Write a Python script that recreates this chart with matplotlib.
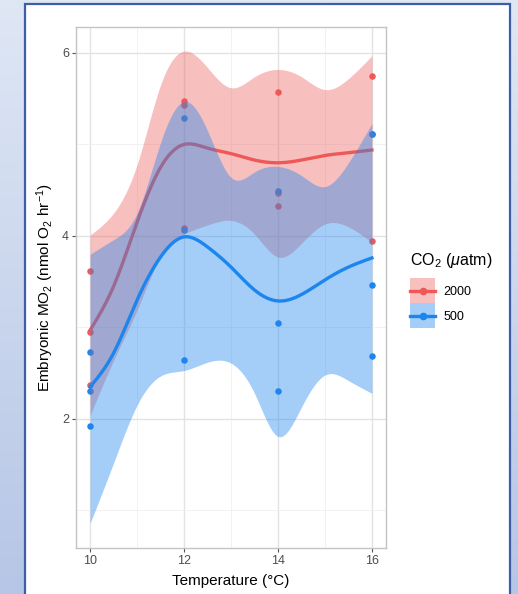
import numpy as np
import matplotlib
matplotlib.use('Agg')
import matplotlib.pyplot as plt
from matplotlib.patches import Patch, Rectangle
from matplotlib.lines import Line2D
from matplotlib.colors import LinearSegmentedColormap
from matplotlib.legend_handler import HandlerTuple, HandlerLine2D

plt.rcParams['font.family'] = ['Liberation Sans', 'DejaVu Sans']
plt.rcParams['mathtext.fontset'] = 'custom'
plt.rcParams['mathtext.rm'] = 'Liberation Sans'
plt.rcParams['mathtext.it'] = 'Liberation Sans:italic'

# raw measurements (temperature, MO2) per CO2 level
temp = [10, 10, 10, 12, 12, 12, 14, 14, 14, 16, 16, 16]
mo2_2000 = [3.62, 2.95, 2.37, 5.48, 5.43, 4.09, 5.57, 4.47, 4.33, 5.75, 5.12, 3.95]
mo2_500 = [2.73, 2.31, 1.92, 5.29, 4.07, 2.65, 4.49, 3.05, 2.31, 5.12, 3.46, 2.69]

# smoother fit and confidence band at half-degree steps
fit_x = [10, 10.5, 11, 11.5, 12, 12.5, 13, 13.5, 14, 14.5, 15, 15.5, 16]
fit_2000 = [2.97, 3.45, 4.15, 4.75, 5.00, 4.96, 4.90, 4.83, 4.80, 4.83, 4.88, 4.91, 4.94]
hi_2000 = [4.01, 4.25, 4.78, 5.65, 6.02, 5.84, 5.62, 5.74, 5.82, 5.74, 5.60, 5.72, 5.97]
lo_2000 = [2.04, 2.64, 3.19, 3.77, 4.02, 4.12, 4.17, 4.02, 3.77, 3.92, 4.13, 4.10, 3.93]
fit_500 = [2.35, 2.72, 3.30, 3.77, 3.99, 3.88, 3.66, 3.41, 3.29, 3.36, 3.52, 3.66, 3.76]
hi_500 = [3.80, 3.96, 4.25, 5.02, 5.47, 5.15, 4.64, 4.70, 4.76, 4.66, 4.54, 4.80, 5.23]
lo_500 = [0.86, 1.52, 2.15, 2.47, 2.53, 2.62, 2.61, 2.28, 1.81, 2.13, 2.48, 2.42, 2.28]

RED = '#EF5858'
BLUE = '#1C86EE'


def smooth(xk, yk, xs):
    # natural cubic spline through the read values, for drawing only
    xk = np.asarray(xk, float)
    yk = np.asarray(yk, float)
    n = len(xk)
    h = np.diff(xk)
    A = np.zeros((n, n))
    r = np.zeros(n)
    A[0, 0] = A[-1, -1] = 1
    for i in range(1, n - 1):
        A[i, i - 1] = h[i - 1]
        A[i, i] = 2 * (h[i - 1] + h[i])
        A[i, i + 1] = h[i]
        r[i] = 3 * ((yk[i + 1] - yk[i]) / h[i] - (yk[i] - yk[i - 1]) / h[i - 1])
    c = np.linalg.solve(A, r)
    b = (yk[1:] - yk[:-1]) / h - h * (2 * c[:-1] + c[1:]) / 3
    d = (c[1:] - c[:-1]) / (3 * h)
    idx = np.clip(np.searchsorted(xk, xs) - 1, 0, n - 2)
    t = xs - xk[idx]
    return yk[idx] + b[idx] * t + c[idx] * t ** 2 + d[idx] * t ** 3


class LineMid(HandlerLine2D):
    # put the key line in the middle of the key box
    def create_artists(self, legend, orig_handle, xdescent, ydescent,
                       width, height, fontsize, trans):
        return super().create_artists(legend, orig_handle, xdescent, 2 * ydescent,
                                      width, height, fontsize, trans)


W, H = 518, 594
fig = plt.figure(figsize=(W / 100, H / 100), dpi=100)

# slide-like background with white card
bg = fig.add_axes([0, 0, 1, 1], zorder=-10)
cmap = LinearSegmentedColormap.from_list('bg', ['#B6C6E6', '#DFE7F5'])
bg.imshow(np.linspace(0, 1, 256).reshape(-1, 1), cmap=cmap, aspect='auto',
          extent=[0, 1, 0, 1], origin='lower')
bg.add_patch(Rectangle((25 / W, -0.02), (510 - 25) / W, 1.02 - 4 / H,
                       transform=bg.transAxes, facecolor='white',
                       edgecolor='#3D5EA6', lw=1.6))
bg.set_xlim(0, 1)
bg.set_ylim(0, 1)
bg.axis('off')

ax = fig.add_axes([76 / W, 46 / H, 310 / W, 521 / H])
ax.set_facecolor('white')
ax.set_axisbelow(True)

xs = np.linspace(10, 16, 400)

ax.scatter(temp, mo2_2000, s=22, color=RED, zorder=2, linewidths=0)
ax.scatter(temp, mo2_500, s=22, color=BLUE, zorder=2, linewidths=0)

ax.fill_between(xs, smooth(fit_x, lo_2000, xs), smooth(fit_x, hi_2000, xs),
                color=RED, alpha=0.38, lw=0, zorder=3)
ax.plot(xs, smooth(fit_x, fit_2000, xs), color=RED, lw=2.4, zorder=4)
ax.fill_between(xs, smooth(fit_x, lo_500, xs), smooth(fit_x, hi_500, xs),
                color=BLUE, alpha=0.40, lw=0, zorder=5)
ax.plot(xs, smooth(fit_x, fit_500, xs), color=BLUE, lw=2.4, zorder=6)

ax.set_xlim(9.7, 16.3)
ax.set_ylim(0.59, 6.284)
ax.set_xticks([10, 12, 14, 16])
ax.set_xticks([11, 13, 15], minor=True)
ax.set_yticks([2, 4, 6])
ax.set_yticks([1, 3, 5], minor=True)
ax.grid(which='major', color='#E3E3E3', lw=1.0)
ax.grid(which='minor', color='#F0F0F0', lw=0.6)
ax.tick_params(which='major', length=3, width=0.8, color='#555555',
               labelsize=9, labelcolor='#4D4D4D', pad=2)
ax.tick_params(which='minor', length=0)
for s in ax.spines.values():
    s.set_color('#C4C4C4')
    s.set_linewidth(1.0)

ax.set_xlabel('Temperature (°C)', fontsize=11, labelpad=5)
ax.set_ylabel(r'Embryonic MO$_2$ (nmol O$_2$ hr$^{-1}$)', fontsize=11, labelpad=4)

handles = [
    (Patch(facecolor=RED, alpha=0.38, edgecolor='none'),
     Line2D([], [], color=RED, lw=2.4, marker='o', markersize=4.5)),
    (Patch(facecolor=BLUE, alpha=0.40, edgecolor='none'),
     Line2D([], [], color=BLUE, lw=2.4, marker='o', markersize=4.5)),
]
leg = ax.legend(handles, ['2000', '500'],
                handler_map={tuple: HandlerTuple(ndivide=1, pad=0),
                             Line2D: LineMid()},
                loc='upper left', bbox_to_anchor=(410 / W, 1 - 251 / H),
                bbox_transform=fig.transFigure, frameon=False, numpoints=1,
                title=r'CO$_2$ ($\mu$atm)', title_fontsize=11.5, fontsize=9,
                handlelength=2.0, handleheight=2.7, labelspacing=0,
                handletextpad=0.65, borderpad=0, borderaxespad=0,
                alignment='left')
leg._legend_box.sep = 6

fig.savefig('out.png', dpi=100)
